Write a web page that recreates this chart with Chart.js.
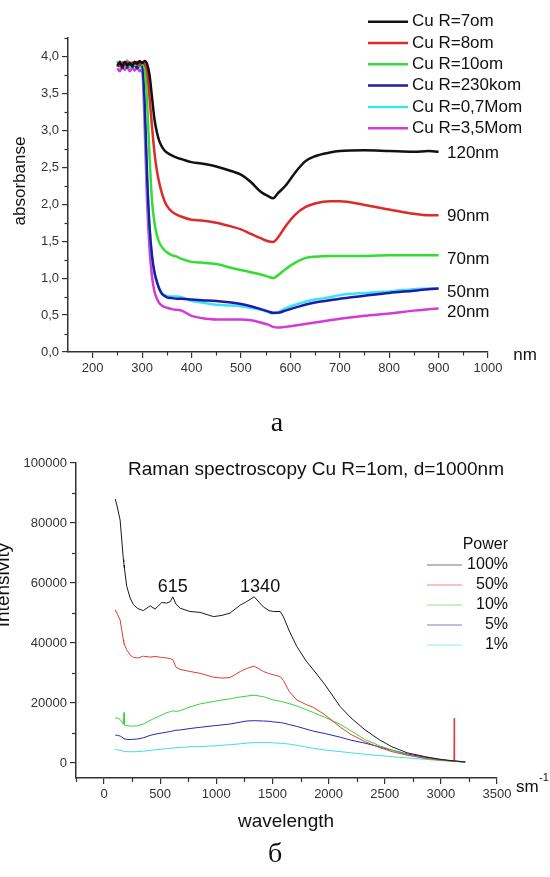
<!DOCTYPE html>
<html>
<head>
<meta charset="utf-8">
<script src="https://cdn.jsdelivr.net/npm/chart.js@4.4.1/dist/chart.umd.min.js"></script>
<style>
  html, body { margin: 0; padding: 0; background: #fff; }
  body { width: 550px; height: 877px; position: relative; overflow: hidden; }
  #box1 { position: absolute; left: 0; top: 0; width: 550px; height: 440px; }
  #box2 { position: absolute; left: 0; top: 440px; width: 550px; height: 437px; }
</style>
</head>
<body>
<div id="box1"><canvas id="absChart"></canvas></div>
<div id="box2"><canvas id="ramanChart"></canvas></div>
<script>
// ---------- chart a: absorbance ----------
var nm = [250,255,260,265,270,275,280,285,290,295,300,305,310,315,320,325,330,335,340,345,350,360,370,380,400,420,450,480,500,520,540,555,565,575,590,610,630,650,680,700,750,800,850,880,900];

var abs7om = [3.88,3.92,3.86,3.93,3.88,3.91,3.87,3.93,3.90,3.94,3.91,3.94,3.90,3.75,3.45,3.15,2.97,2.85,2.78,2.73,2.70,2.66,2.63,2.61,2.57,2.55,2.51,2.45,2.40,2.30,2.17,2.11,2.08,2.15,2.25,2.43,2.58,2.65,2.70,2.72,2.73,2.72,2.71,2.72,2.71];
var abs8om = [3.90,3.87,3.92,3.88,3.93,3.89,3.92,3.90,3.93,3.88,3.92,3.90,3.80,3.45,3.05,2.70,2.45,2.28,2.15,2.05,1.98,1.90,1.86,1.83,1.79,1.78,1.75,1.70,1.66,1.60,1.54,1.50,1.49,1.55,1.70,1.86,1.96,2.01,2.04,2.04,1.99,1.93,1.87,1.85,1.85];
var abs10om = [3.93,3.88,3.90,3.86,3.92,3.87,3.91,3.88,3.92,3.87,3.90,3.85,3.40,2.65,2.05,1.75,1.58,1.48,1.42,1.38,1.35,1.31,1.29,1.26,1.22,1.21,1.19,1.14,1.11,1.08,1.05,1.02,1.00,1.04,1.12,1.21,1.27,1.29,1.30,1.30,1.30,1.31,1.31,1.31,1.31];
var abs230kom = [3.86,3.93,3.84,3.90,3.85,3.92,3.86,3.89,3.84,3.91,3.88,3.40,2.40,1.70,1.30,1.08,0.95,0.85,0.79,0.76,0.74,0.73,0.72,0.72,0.71,0.70,0.69,0.67,0.65,0.62,0.58,0.55,0.53,0.53,0.56,0.60,0.64,0.67,0.70,0.72,0.76,0.80,0.83,0.85,0.86];
var abs07Mom = [3.94,3.86,3.92,3.88,3.95,3.85,3.90,3.86,3.92,3.85,3.85,3.30,2.30,1.65,1.28,1.07,0.94,0.86,0.80,0.77,0.76,0.75,0.75,0.74,0.69,0.67,0.64,0.63,0.62,0.60,0.57,0.54,0.52,0.54,0.59,0.64,0.68,0.71,0.74,0.77,0.80,0.82,0.85,0.86,0.86];
var abs35Mom = [3.84,3.80,3.87,3.82,3.86,3.80,3.85,3.81,3.86,3.80,3.82,3.10,2.05,1.40,1.02,0.82,0.72,0.66,0.63,0.61,0.60,0.58,0.57,0.56,0.49,0.46,0.44,0.44,0.44,0.43,0.40,0.37,0.34,0.33,0.34,0.36,0.38,0.40,0.43,0.45,0.49,0.52,0.56,0.58,0.59];

var absLabels = ['Cu R=7om', 'Cu R=8om', 'Cu R=10om', 'Cu R=230kom', 'Cu R=0,7Mom', 'Cu R=3,5Mom'];
var thickness = ['120nm', '90nm', '70nm', '50nm', '20nm'];
var thicknessAt = [2.69, 1.83, 1.26, 0.81, 0.54];
var absXTicks = [200,300,400,500,600,700,800,900,1000];
var absYTicks = [0,0.5,1,1.5,2,2.5,3,3.5,4];

// ---------- chart b: Raman ----------
var wn = [100,120,143,172,175,178,181,202,232,261,300,350,410,454,514,558,590,612,640,677,766,856,974,1050,1123,1212,1270,1337,1420,1470,1509,1569,1598,1650,1717,1800,1866,1970,2103,2200,2326,2450,2564,2700,2861,3000,3116,3119,3122,3217];

var p100 = [88000,85000,81000,67800,67000,66000,65000,58900,55000,52800,51500,50800,52400,51300,53500,53300,53800,55400,53000,51600,50500,50200,48800,49200,50000,52600,53800,55400,52000,50800,50500,50500,48700,44000,38800,34000,31000,26000,18800,15000,11000,7800,5400,3400,2100,1200,700,700,680,400];
var p50 = [51000,49500,47700,41000,40500,40000,39500,37700,36000,35200,35000,35600,35300,35500,35200,35000,34800,34500,32000,31200,30500,29900,28600,28300,28500,30500,31500,32300,30500,29800,29400,28800,27500,23800,21000,19500,18500,16000,12000,9500,7100,5200,3800,2600,1600,1000,700,14900,650,400];
var p10 = [14900,15000,14500,13000,13000,16800,12600,12500,12300,12300,12400,13000,14200,15000,16000,16800,17100,17400,17200,17400,18700,19700,20500,21000,21400,22000,22300,22600,22100,21500,21000,20600,20300,19800,19000,17800,16800,15200,12900,10700,7800,5800,4300,2800,1500,900,600,600,600,300];
var p5 = [9300,9200,9000,8300,8200,8100,8000,7900,7800,7900,8000,8400,9200,9600,10000,10300,10500,10700,10900,11000,11500,11900,12400,12700,13000,13600,14000,14100,14000,13900,13700,13500,13300,12800,12200,11300,10600,9800,8600,7600,6600,5400,4300,3000,1900,1100,600,600,600,300];
var p1 = [4600,4400,4200,3900,3900,3850,3800,3800,3750,3750,3800,3950,4200,4400,4600,4800,4900,5000,5100,5200,5400,5500,5700,5900,6100,6400,6600,6800,6800,6800,6700,6600,6500,6300,5900,5300,4900,4300,3800,3400,2900,2500,2100,1700,1200,800,500,500,500,300];

var powerLabels = ['100%', '50%', '10%', '5%', '1%'];
var peakPos = [612, 1390];
var peakText = ['615', '1340'];
var ramanXTicks = [0,500,1000,1500,2000,2500,3000,3500];
var ramanYTicks = [0,20000,40000,60000,80000,100000];

var SANS = 'Liberation Sans, Arial, sans-serif';
var SERIF = 'Liberation Serif, DejaVu Serif, serif';

function pts(xs, ys) {
  return xs.map(function(x, i) { return {x: x, y: ys[i]}; });
}

// short ticks between the labelled ones
var minorTicks = {
  id: 'minorTicks',
  afterDraw: function(chart, args, opts) {
    var ctx = chart.ctx, xs = chart.scales.x, ys = chart.scales.y;
    ctx.save();
    ctx.strokeStyle = '#333';
    ctx.lineWidth = 1.2;
    opts.x.forEach(function(v) {
      var px = Math.round(xs.getPixelForValue(v)) + 0.5;
      ctx.beginPath(); ctx.moveTo(px, xs.top); ctx.lineTo(px, xs.top + opts.len); ctx.stroke();
    });
    opts.y.forEach(function(v) {
      var py = Math.round(ys.getPixelForValue(v)) + 0.5;
      ctx.beginPath(); ctx.moveTo(ys.right, py); ctx.lineTo(ys.right - opts.len, py); ctx.stroke();
    });
    ctx.restore();
  }
};

// legend, axis names and labels
var extraText = {
  id: 'extraText',
  afterDraw: function(chart, args, opts) {
    var ctx = chart.ctx;
    ctx.save();
    (opts.legend || []).forEach(function(row) {
      var ds = chart.data.datasets[row.ds];
      ctx.globalAlpha = row.alpha || 1;
      ctx.strokeStyle = ds.borderColor;
      ctx.lineWidth = row.lw;
      ctx.beginPath(); ctx.moveTo(row.x0, row.y); ctx.lineTo(row.x1, row.y); ctx.stroke();
      ctx.globalAlpha = 1;
    });
    (opts.items || []).forEach(function(t) {
      var x = t.x, y = t.y;
      if (t.data) {
        x = chart.scales.x.getPixelForValue(t.x);
        y = chart.scales.y.getPixelForValue(t.y);
      }
      ctx.save();
      ctx.translate(x, y);
      if (t.rot) ctx.rotate(t.rot);
      ctx.font = t.font;
      ctx.fillStyle = t.color || '#111';
      ctx.textAlign = t.align || 'center';
      ctx.textBaseline = 'middle';
      ctx.fillText(t.text, 0, 0);
      ctx.restore();
    });
    ctx.restore();
  }
};

function axisX(min, max, list, height, fmt) {
  return {
    type: 'linear', min: min, max: max,
    afterBuildTicks: function(s) { s.ticks = list.map(function(v) { return {value: v}; }); },
    afterFit: function(s) { s.height = height; },
    grid: { drawOnChartArea: false, drawTicks: true, tickLength: 6, color: '#333', lineWidth: 1.2 },
    border: { color: '#333', width: 1.5 },
    ticks: { autoSkip: false, maxRotation: 0, padding: 3, color: '#333', font: { family: SANS, size: 13 }, callback: fmt }
  };
}
function axisY(min, max, list, width, fmt) {
  return {
    type: 'linear', min: min, max: max,
    afterBuildTicks: function(s) { s.ticks = list.map(function(v) { return {value: v}; }); },
    afterFit: function(s) { s.width = width; },
    grid: { drawOnChartArea: false, drawTicks: true, tickLength: 6, color: '#333', lineWidth: 1.2 },
    border: { color: '#333', width: 1.5 },
    ticks: { autoSkip: false, padding: 3, color: '#333', font: { family: SANS, size: 13 }, callback: fmt }
  };
}

// ---- chart a ----
var absSeries = [abs7om, abs8om, abs10om, abs230kom, abs07Mom, abs35Mom];
var absColors = ['#111111', '#dd2a2a', '#33dd33', '#1c1ca6', '#3ae4f2', '#d43ad4'];

var absItems = [
  { text: 'absorbanse', x: 20, y: 181, rot: -Math.PI / 2, font: '17px ' + SANS },
  { text: 'nm', x: 525, y: 355, font: '17px ' + SANS },
  { text: 'а', x: 277, y: 424, font: '28px ' + SERIF }
];
thickness.forEach(function(t, i) {
  absItems.push({ text: t, x: 917, y: thicknessAt[i], data: true, align: 'left', font: '17px ' + SANS });
});
var absLegend = [];
absLabels.forEach(function(l, i) {
  var y = 21.7 + i * 21.3;
  absLegend.push({ ds: i, x0: 368, x1: 408, y: y, lw: 2.5 });
  absItems.push({ text: l, x: 412, y: y, align: 'left', font: '17px ' + SANS });
});

var absMinorX = [250,350,450,550,650,750,850,950];
var absMinorY = [0.25,0.75,1.25,1.75,2.25,2.75,3.25,3.75,4.25];

new Chart(document.getElementById('absChart'), {
  type: 'line',
  data: {
    datasets: absSeries.map(function(s, i) {
      return { label: absLabels[i], data: pts(nm, s), borderColor: absColors[i], borderWidth: 2.5,
               pointRadius: 0, fill: false, cubicInterpolationMode: 'monotone' };
    })
  },
  options: {
    responsive: true, maintainAspectRatio: false, animation: false,
    layout: { padding: { top: 38, right: 62, left: 0, bottom: 0 } },
    plugins: {
      legend: { display: false }, tooltip: { enabled: false },
      minorTicks: { x: absMinorX, y: absMinorY, len: 3.5 },
      extraText: { items: absItems, legend: absLegend }
    },
    scales: {
      x: axisX(150, 1000, absXTicks, 88, function(v) { return String(v); }),
      y: axisY(0, 4.25, absYTicks, 68, function(v) { return v.toFixed(1).replace('.', ','); })
    }
  },
  plugins: [minorTicks, extraText]
});

// ---- chart b ----
var ramanSeries = [p100, p50, p10, p5, p1];
var ramanColors = ['#1a1a1a', '#e03a3a', '#3ad23a', '#2626b0', '#40dede'];

var ramanItems = [
  { text: 'Raman spectroscopy Cu R=1om, d=1000nm', x: 316, y: 30, font: '19px ' + SANS },
  { text: 'Intensivity', x: 4, y: 145, rot: -Math.PI / 2, font: '19px ' + SANS },
  { text: 'wavelength', x: 286, y: 382, font: '19px ' + SANS },
  { text: 'sm', x: 516, y: 347, align: 'left', font: '17px ' + SANS },
  { text: '-1', x: 539, y: 338, align: 'left', font: '11px ' + SANS },
  { text: 'б', x: 275, y: 415, font: '28px ' + SERIF },
  { text: 'Power', x: 508, y: 105, align: 'right', font: '16px ' + SANS }
];
peakText.forEach(function(t, i) {
  ramanItems.push({ text: t, x: peakPos[i], y: 58500, data: true, font: '18px ' + SANS });
});
var ramanLegend = [];
powerLabels.forEach(function(l, i) {
  var y = 125 + i * 20;
  ramanLegend.push({ ds: i, x0: 427, x1: 462, y: y, lw: 1.2, alpha: 0.6 });
  ramanItems.push({ text: l, x: 508, y: y, align: 'right', font: '16px ' + SANS });
});

var ramanMinorX = [-250,250,750,1250,1750,2250,2750,3250];
var ramanMinorY = [10000,30000,50000,70000,90000];

new Chart(document.getElementById('ramanChart'), {
  type: 'line',
  data: {
    datasets: ramanSeries.map(function(s, i) {
      return { label: powerLabels[i], data: pts(wn, s), borderColor: ramanColors[i], borderWidth: 1,
               pointRadius: 0, fill: false, tension: 0 };
    })
  },
  options: {
    responsive: true, maintainAspectRatio: false, animation: false,
    layout: { padding: { top: 23, right: 53, left: 0, bottom: 0 } },
    plugins: {
      legend: { display: false }, tooltip: { enabled: false },
      minorTicks: { x: ramanMinorX, y: ramanMinorY, len: 4 },
      extraText: { items: ramanItems, legend: ramanLegend }
    },
    scales: {
      x: axisX(-250, 3500, ramanXTicks, 99, function(v) { return String(v); }),
      y: axisY(-5000, 100000, ramanYTicks, 76, function(v) { return String(v); })
    }
  },
  plugins: [minorTicks, extraText]
});
</script>
</body>
</html>
